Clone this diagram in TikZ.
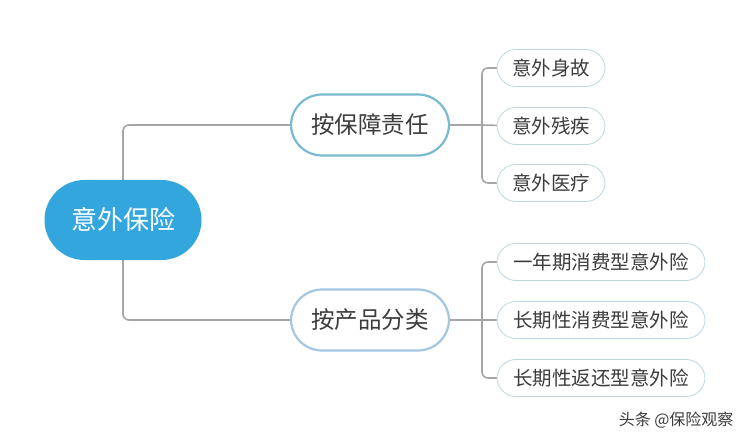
\documentclass[tikz,border=0pt]{standalone}
\usepackage{fontspec}
\setmainfont{Noto Sans CJK SC}
\usetikzlibrary{positioning}
\definecolor{rootblue}{RGB}{52,166,222}
\definecolor{tealline}{RGB}{120,186,208}
\definecolor{paleblue}{RGB}{164,198,228}
\definecolor{leafline}{RGB}{190,214,224}
\definecolor{linkgray}{RGB}{165,165,165}
\definecolor{txtgray}{RGB}{60,60,60}
\tikzset{
  rootnode/.style={rounded corners=40pt, fill=rootblue, text=white, minimum width=157pt, minimum height=80pt, font=\fontsize{26}{26}\selectfont},
  branchnode/.style={rounded corners=31pt, draw, line width=2.2pt, fill=white, text=txtgray, minimum width=158pt, minimum height=61pt, font=\fontsize{23.5}{24}\selectfont},
  leafnode/.style={rounded corners=19pt, draw=leafline, line width=0.8pt, fill=white, text=txtgray, minimum height=37pt, font=\fontsize{19.5}{20}\selectfont},
  link/.style={draw=linkgray, line width=1.6pt, rounded corners=6pt},
}
\begin{document}
\begin{tikzpicture}[x=1pt,y=1pt,yscale=-1]
\useasboundingbox (0,0) rectangle (750,441);
\fill[white] (0,0) rectangle (750,441);

% links
\coordinate (fork1) at (482,125);
\coordinate (fork2) at (482,320);
\draw[link] (123,200) |- (370,125);
\draw[link] (123,240) |- (370,320);
\draw[link] (370,125) -- (fork1);
\draw[link] (370,320) -- (fork2);
\foreach \y in {68,183} \draw[link] (fork1) |- (520,\y);
\draw[link] (fork1) -- (520,126);
\foreach \y in {262,378} \draw[link] (fork2) |- (520,\y);
\draw[link] (fork2) -- (520,320);

% root and branches
\node[rootnode] (root) at (123,220) {意外保险};
\node[branchnode, draw=tealline] (duty) at (370,125) {按保障责任};
\node[branchnode, draw=paleblue] (prod) at (370,320) {按产品分类};

% leaves
\node[leafnode, minimum width=108pt] (l1) at (551,68) {意外身故};
\node[leafnode, minimum width=108pt] (l2) at (551,126) {意外残疾};
\node[leafnode, minimum width=108pt] (l3) at (551,183) {意外医疗};
\node[leafnode, minimum width=208pt] (m1) at (601,262) {一年期消费型意外险};
\node[leafnode, minimum width=208pt] (m2) at (601,320) {长期性消费型意外险};
\node[leafnode, minimum width=208pt] (m3) at (601,378) {长期性返还型意外险};

% watermark
\node[anchor=east, text=txtgray, font=\fontsize{16}{16}\selectfont] (mark) at (737,420) {头条 @保险观察};
\end{tikzpicture}
\end{document}
